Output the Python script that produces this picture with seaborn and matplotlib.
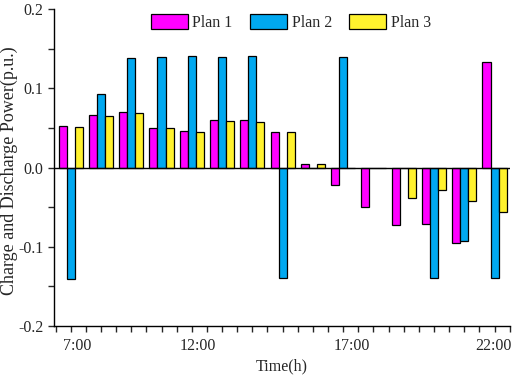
import numpy as np
import pandas as pd
import matplotlib
matplotlib.use("Agg")
import matplotlib.pyplot as plt
import seaborn as sns
from matplotlib.ticker import MultipleLocator, FormatStrFormatter, FixedLocator

# datos (p.u.)
hours = ["7:00", "8:00", "9:00", "10:00", "11:00", "12:00", "13:00", "14:00",
         "15:00", "16:00", "17:00", "18:00", "19:00", "20:00", "21:00"]
plan1 = [0.052, 0.066, 0.070, 0.050, 0.046, 0.060, 0.060, 0.045,
         0.004, -0.022, -0.050, -0.072, -0.071, -0.095, 0.133]
plan2 = [-0.141, 0.093, 0.138, 0.140, 0.141, 0.140, 0.141, -0.140,
         -0.001, 0.140, 0.0, 0.0, -0.140, -0.093, -0.140]
plan3 = [0.051, 0.065, 0.069, 0.050, 0.045, 0.059, 0.058, 0.045,
         0.004, 0.0, 0.0, -0.039, -0.028, -0.042, -0.056]
plans = ["Plan 1", "Plan 2", "Plan 3"]
colors = ["#FF00FF", "#00A8F0", "#FFF22E"]

# etiquetas del eje x (posiciones como en la figura original)
xlabels = ["7:00", "12:00", "17:00", "22:00"]
xlabel_pos = [0.2, 4.2, 9.28, 13.95]

df = pd.DataFrame({
    "time": hours * 3,
    "power": plan1 + plan2 + plan3,
    "plan": [p for p in plans for _ in hours],
})

sns.set_style("ticks")
plt.rcParams["font.family"] = ["Liberation Serif", "DejaVu Serif"]

fig = plt.figure(figsize=(5.12, 3.79), dpi=100)
ax = fig.add_axes([0.1055, 0.140, 0.890, 0.836])

sns.barplot(data=df, x="time", y="power", hue="plan", palette=colors,
            saturation=1, edgecolor="black", linewidth=0.9, width=0.8, ax=ax)

ax.axhline(0, color="black", linewidth=1.0, zorder=3)

ax.set_xlim(-0.55, 14.5)
ax.set_ylim(-0.2, 0.2)
ax.yaxis.set_major_locator(MultipleLocator(0.1))
ax.yaxis.set_minor_locator(MultipleLocator(0.05))
ax.yaxis.set_major_formatter(FormatStrFormatter("%.1f"))

ax.xaxis.set_major_locator(FixedLocator(xlabel_pos))
ax.set_xticklabels(xlabels)
ax.xaxis.set_minor_locator(MultipleLocator(0.5))
ax.tick_params(axis="x", which="major", length=0, pad=9, labelsize=11.5)
ax.tick_params(axis="x", which="minor", length=4, width=1, direction="out")
ax.tick_params(axis="y", which="major", length=4, width=1, direction="out", labelsize=11.5)
ax.tick_params(axis="y", which="minor", length=4, width=1, direction="out")

for s in ["top", "right"]:
    ax.spines[s].set_visible(False)
for s in ["left", "bottom"]:
    ax.spines[s].set_linewidth(1.0)
    ax.spines[s].set_color("black")

ax.set_xlabel("Time(h)", fontsize=11.5, labelpad=3)
ax.set_ylabel("Charge and Discharge Power(p.u.)", fontsize=13)
ax.yaxis.set_label_coords(-0.078, 0.49)

ax.legend(loc="upper center", bbox_to_anchor=(0.52, 1.03), ncol=3, frameon=False,
          fontsize=11.5, handlelength=2.3, handleheight=1.1, columnspacing=1.1,
          handletextpad=0.3)

fig.savefig("out.png", dpi=100)
